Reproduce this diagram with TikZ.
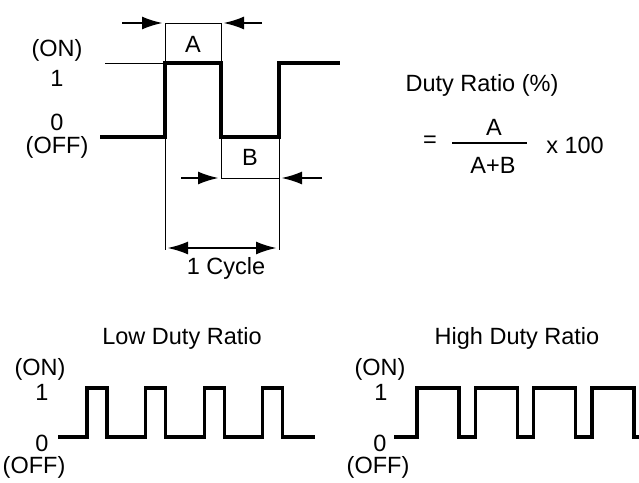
\documentclass[tikz,border=0pt]{standalone}
\usepackage{fontspec}
\setmainfont{Liberation Sans}
\usetikzlibrary{arrows.meta}

\tikzset{
  wave/.style={black, line width=3.2pt, line join=miter},
  guide/.style={black, line width=1pt},
  dimarrow/.style={black, line width=2.6pt, -{Latex[length=21pt,width=13pt]}},
  lbl/.style={inner sep=0pt, font=\fontsize{23.5}{28}\selectfont}
}

\begin{document}
\begin{tikzpicture}[x=1pt,y=-1pt]
        \useasboundingbox (0,0) rectangle (639,482);
        % Corners of the A and B boxes.
            \coordinate (Atl) at (165,23);
            \coordinate (Atr) at (221,23);
            \coordinate (Abr) at (221,63);
            \coordinate (Btl) at (221,137);
            \coordinate (Bbl) at (221,178);
            \coordinate (Bbr) at (279,178);
            \coordinate (Lfoot) at (165,250);
            \coordinate (Rtop) at (279,137);
            \coordinate (Rfoot) at (279,250);
            \coordinate (ref0) at (105,63);
            \coordinate (ref1) at (165,63);
        % The single pulse.
            \draw[wave] (100,137) -- (165,137) -- (165,63) -- (221,63) -- (221,137) -- (279,137) -- (279,63) -- (340,63);
        % Thin guide lines.
            \draw[guide] (ref0) -- (ref1);
            \draw[guide] (Atl) -- (Lfoot);
            \draw[guide] (Atl) -- (Atr) -- (Abr);
            \draw[guide] (Btl) -- (Bbl) -- (Bbr);
            \draw[guide] (Rtop) -- (Rfoot);
        % Dimension arrows.
            \coordinate (a1) at (122,23);
            \coordinate (a2) at (163,23);
            \coordinate (a3) at (262,23);
            \coordinate (a4) at (223,23);
            \coordinate (b1) at (181,178);
            \coordinate (b2) at (219,178);
            \coordinate (b3) at (322,178);
            \coordinate (b4) at (281,178);
            \coordinate (c1) at (167,248);
            \coordinate (c2) at (277,248);
            \draw[dimarrow] (a1) -- (a2);
            \draw[dimarrow] (a3) -- (a4);
            \draw[dimarrow] (b1) -- (b2);
            \draw[dimarrow] (b3) -- (b4);
            \draw[dimarrow, {Latex[length=21pt,width=13pt]}-{Latex[length=21pt,width=13pt]}] (c1) -- (c2);
        % Below nodes are the labels.
            \node[lbl] (on) at (57,50) {(ON)};
            \node[lbl] (one) at (57,78) {1};
            \node[lbl] (zero) at (57,122) {0};
            \node[lbl] (off) at (57,147) {(OFF)};
            \node[lbl] (A) at (193,44) {A};
            \node[lbl] (B) at (250,157) {B};
            \node[lbl] (cycle) at (226,268) {1 Cycle};
        % Duty ratio formula.
            \node[lbl] (title) at (482,85) {Duty Ratio (\%)};
            \node[lbl] (eq) at (430,142) {=};
            \node[lbl] (num) at (494,127) {A};
            \node[lbl] (den) at (493,165) {A+B};
            \node[lbl] (times) at (575,145) {x 100};
            \coordinate (f1) at (452,143);
            \coordinate (f2) at (527,143);
            \draw[black, line width=1.3pt] (f1) -- (f2);
        % Low duty ratio train.
            \node[lbl] (lowtitle) at (182,338) {Low Duty Ratio};
            \node[lbl] (lowon) at (40,369) {(ON)};
            \node[lbl] (lowone) at (42,392) {1};
            \node[lbl] (lowzero) at (42,443) {0};
            \node[lbl] (lowoff) at (34,467) {(OFF)};
            \draw[wave] (58,437) foreach \k in {0,...,3} { -- ({87+58.6*\k},437) -- ++(0,-49) -- ++(20,0) -- ++(0,49) } -- (315,437);
        % High duty ratio train.
            \node[lbl] (hightitle) at (517,338) {High Duty Ratio};
            \node[lbl] (highon) at (380,369) {(ON)};
            \node[lbl] (highone) at (381,392) {1};
            \node[lbl] (highzero) at (380,443) {0};
            \node[lbl] (highoff) at (378,467) {(OFF)};
            \draw[wave] (394,437) foreach \k in {0,...,3} { -- ({417+58.3*\k},437) -- ++(0,-49) -- ++(42,0) -- ++(0,49) } -- (639,437);
    \end{tikzpicture}
\end{document}
